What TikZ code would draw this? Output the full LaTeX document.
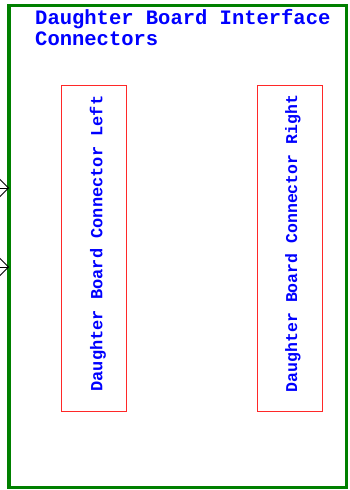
\documentclass[tikz,border=0pt]{standalone}
\usepackage{fontspec}
\setmonofont{Liberation Mono}
\usetikzlibrary{arrows.meta}
\definecolor{boardgreen}{RGB}{0,128,0}
\definecolor{boxred}{RGB}{255,40,40}
\definecolor{txtblue}{RGB}{0,0,255}
\tikzset{
  board/.style={draw=boardgreen, line width=3.5pt, rectangle, inner sep=0pt, outer sep=0pt, minimum width=337.5pt, minimum height=482pt},
  connbox/.style={draw=boxred, line width=1pt, rectangle, inner sep=0pt, outer sep=0pt, minimum width=65pt, minimum height=326pt},
  conntext/.style={text=txtblue, font=\ttfamily\bfseries\fontsize{17}{17}\selectfont, rotate=90, inner sep=0pt},
  titletext/.style={text=txtblue, font=\ttfamily\bfseries\fontsize{20.5}{21}\selectfont, align=left, inner sep=0pt},
  inarrow/.style={draw=black, line width=0.9pt, -{Straight Barb[length=9pt,width=18pt]}}
}
\begin{document}
\begin{tikzpicture}[x=1pt,y=-1pt]
\useasboundingbox (0,0) rectangle (350,490);
\node[board] (brd) at (177.95,487.7) [anchor=south] {};
\node[titletext, anchor=base west] (title) at (35,45) {Daughter Board Interface\\Connectors};
\node[connbox] (left) at (94,248) {};
\node[connbox] (right) at (289.5,248) {};
\node[conntext] (lefttxt) at (98,243.5) {Daughter Board Connector Left};
\node[conntext, font=\ttfamily\bfseries\fontsize{16.5}{16.5}\selectfont] (righttxt) at (293,243.5) {Daughter Board Connector Right};
\coordinate (in1) at (-10,188);
\coordinate (in2) at (-10,267);
\draw[inarrow] (in1) -- (in1 -| brd.west);
\draw[inarrow] (in2) -- (in2 -| brd.west);
\end{tikzpicture}
\end{document}
